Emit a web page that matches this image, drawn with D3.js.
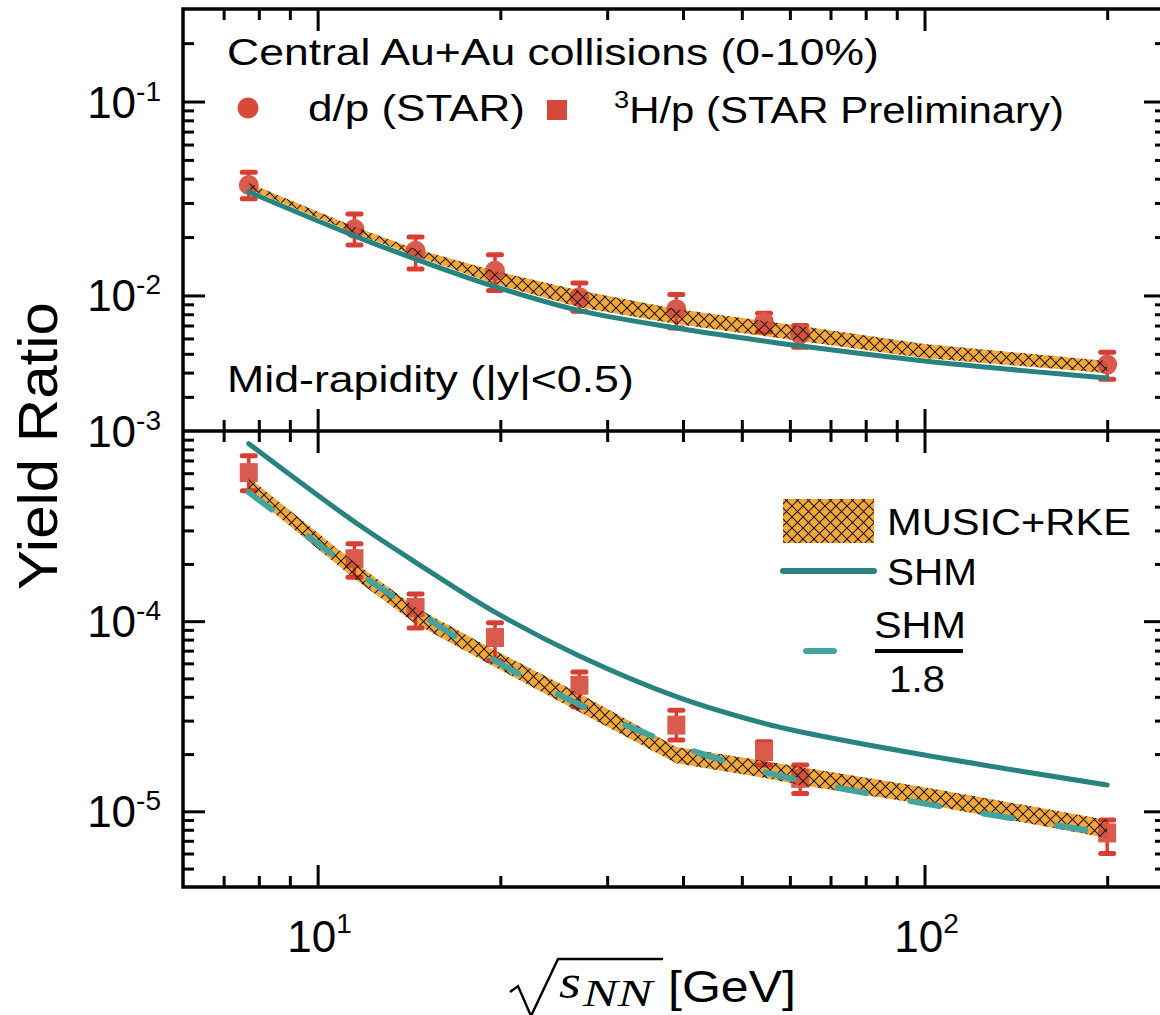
<!DOCTYPE html>
<html lang="en">
<head>
<meta charset="UTF-8">
<title>Yield Ratio vs collision energy</title>
<style>
  body { margin: 0; background: #fff; }
  text { font-family: "Liberation Sans", Arial, sans-serif; fill: #000; }
</style>
</head>
<body>
<script src="https://d3js.org/d3.v7.min.js"></script>
<script>
// ---- data ----
const energies = [7.7, 11.5, 14.5, 19.6, 27, 39, 54.4, 62.4, 200];

// d/p (STAR)
const dpRatio = [0.0371, 0.0220, 0.0170, 0.0134, 0.0098, 0.0085, 0.0073, 0.0063, 0.0044];
const dpLow   = [0.0315, 0.0182, 0.0137, 0.0106, 0.0083, 0.0068, 0.0065, 0.0054, 0.0037];
const dpHigh  = [0.0432, 0.0263, 0.0200, 0.0162, 0.0116, 0.0101, 0.0081, 0.0070, 0.0051];

// 3H/p (STAR Preliminary)
const tpRatio = [6.04e-4, 2.13e-4, 1.18e-4, 8.2e-5, 4.6e-5, 2.84e-5, 2.06e-5, 1.49e-5, 7.7e-6];
const tpLow   = [4.85e-4, 1.70e-4, 9.2e-5, 6.2e-5, 3.54e-5, 2.37e-5, 1.75e-5, 1.24e-5, 6.0e-6];
const tpHigh  = [7.4e-4, 2.55e-4, 1.39e-4, 9.8e-5, 5.4e-5, 3.4e-5, 2.32e-5, 1.75e-5, 9.0e-6];

// model curves
const modelEnergies = [7.7, 11.5, 14.5, 19.6, 27, 39, 54.4, 62.4, 100, 200];
const shmDp     = [0.0342, 0.0203, 0.0154, 0.0111, 0.00835, 0.00680, 0.00582, 0.00549, 0.00459, 0.00375];
const musicDpHi = [0.0380, 0.0226, 0.01738, 0.01335, 0.01059, 0.00851, 0.00738, 0.00696, 0.00562, 0.00459];
const musicDpLo = [0.0354, 0.0210, 0.01599, 0.01147, 0.00870, 0.00712, 0.00618, 0.00582, 0.00476, 0.00398];

const shmTp     = [8.58e-4, 3.33e-4, 2.04e-4, 1.115e-4, 6.56e-5, 4.01e-5, 2.90e-5, 2.62e-5, 1.976e-5, 1.375e-5];
const musicTpHi = [5.69e-4, 2.04e-4, 1.184e-4, 7.02e-5, 4.16e-5, 2.18e-5, 1.84e-5, 1.71e-5, 1.34e-5, 9.0e-6];
const musicTpLo = [4.75e-4, 1.67e-4, 9.7e-5, 5.74e-5, 3.33e-5, 1.79e-5, 1.50e-5, 1.375e-5, 1.09e-5, 7.25e-6];
const shmScale = 1.8;   // SHM / 1.8 curve

// axis tick labels
const xMajor = [10, 100];
const xMajorLabels = ["1", "2"];
const yTopMajor = [1e-1, 1e-2];
const yTopLabels = ["-1", "-2"];
const yBotMajor = [1e-3, 1e-4, 1e-5];
const yBotLabels = ["-3", "-4", "-5"];

// ---- layout ----
const W = 1160, H = 1015;
const padL = 183, padR = 1166, padT = 9, padM = 431, padB = 887;
const red = "#d74a3b", redBar = "#d42a1f", teal = "#28827e", tealDash = "#45a39e", orange = "#f5a738";

const svg = d3.select("body").append("svg")
    .attr("width", W)
    .attr("height", H)
    .style("display", "block");

const x = d3.scaleLog().domain([6, 250]).range([padL, padR]);
const yTop = d3.scaleLog().domain([2e-3, 0.3]).range([padM, padT]);
const yBot = d3.scaleLog().domain([4e-6, 1e-3]).range([padB, padM]);

// hatch pattern
const defs = svg.append("defs");
const pat = defs.append("pattern")
    .attr("id", "hatch")
    .attr("patternUnits", "userSpaceOnUse")
    .attr("width", 11).attr("height", 11);
pat.append("path")
    .attr("d", "M0,0L11,11M11,0L0,11")
    .attr("stroke", "#1a1a1a")
    .attr("stroke-width", 1.1)
    .attr("fill", "none");

function stretchText(sel, tx, ty, width, extra) {
    const w = sel.node().getBBox().width;
    sel.attr("transform", `translate(${tx},${ty}) ${extra || ""} scale(${width / w},1)`);
    return sel;
}

function drawPanel(y, data, lo, hi, shm, bandHi, bandLo, marker) {
    const model = modelEnergies.map((e, i) => ({e, v: shm[i], hi: bandHi[i], lo: bandLo[i]}));
    const pts = energies.map((e, i) => ({e, v: data[i], lo: lo[i], hi: hi[i]}));

    const area = d3.area()
        .x(d => x(d.e))
        .y0(d => y(d.lo))
        .y1(d => y(d.hi));

    svg.append("path").datum(model)
        .attr("d", area)
        .attr("fill", orange);

    // data points
    const g = svg.append("g").attr("opacity", 0.9);
    g.selectAll(".bar").data(pts).enter().append("line")
        .attr("x1", d => x(d.e)).attr("x2", d => x(d.e))
        .attr("y1", d => y(d.lo)).attr("y2", d => y(d.hi))
        .attr("stroke", redBar).attr("stroke-width", 3.5);
    ["lo", "hi"].forEach(k => {
        g.selectAll(".cap" + k).data(pts).enter().append("line")
            .attr("x1", d => x(d.e) - 6.5).attr("x2", d => x(d.e) + 6.5)
            .attr("y1", d => y(d[k])).attr("y2", d => y(d[k]))
            .attr("stroke", redBar).attr("stroke-width", 5)
            .attr("stroke-linecap", "round");
    });
    if (marker === "circle") {
        g.selectAll(".pt").data(pts).enter().append("circle")
            .attr("cx", d => x(d.e)).attr("cy", d => y(d.v))
            .attr("r", 10).attr("fill", red);
    } else {
        g.selectAll(".pt").data(pts).enter().append("rect")
            .attr("x", d => x(d.e) - 9).attr("y", d => y(d.v) - 9.5)
            .attr("width", 18).attr("height", 19).attr("fill", red);
    }

    svg.append("path").datum(model)
        .attr("d", area)
        .attr("fill", "url(#hatch)");

    const line = d3.line()
        .x(d => x(d.e))
        .y(d => y(d.v))
        .curve(d3.curveCatmullRom.alpha(0.5));
    svg.append("path").datum(model)
        .attr("d", line)
        .attr("fill", "none")
        .attr("stroke", teal)
        .attr("stroke-width", 5)
        .attr("stroke-linecap", "round");
    return {model, line};
}

drawPanel(yTop, dpRatio, dpLow, dpHigh, shmDp, musicDpHi, musicDpLo, "circle");
const bot = drawPanel(yBot, tpRatio, tpLow, tpHigh, shmTp, musicTpHi, musicTpLo, "square");

// SHM / 1.8 dashed curve
svg.append("path")
    .datum(bot.model.map(d => ({e: d.e, v: d.v / shmScale})))
    .attr("d", bot.line)
    .attr("fill", "none")
    .attr("stroke", tealDash)
    .attr("stroke-width", 6)
    .attr("stroke-linecap", "round")
    .attr("stroke-dasharray", "29,45");

// ---- ticks ----
const isMajor = v => Math.abs(Math.log10(v) - Math.round(Math.log10(v))) < 1e-6;
const inside = (s, v) => v > s.domain()[0] * 1.0001 && v < s.domain()[1] * 0.9999;

function ticks(axisFn, scale, tx, ty) {
    const all = scale.ticks().filter(v => inside(scale, v));
    [[all.filter(v => !isMajor(v)), 11], [all.filter(isMajor), 22]].forEach(([vals, len]) => {
        const g = svg.append("g")
            .attr("transform", `translate(${tx},${ty})`)
            .call(axisFn(scale).tickValues(vals).tickSize(-len).tickFormat(""));
        g.select(".domain").remove();
        g.selectAll("line").attr("stroke", "#000").attr("stroke-width", 3);
    });
}
ticks(d3.axisBottom, x, 0, padB);
ticks(d3.axisBottom, x, 0, padM);
ticks(d3.axisTop, x, 0, padM);
ticks(d3.axisTop, x, 0, padT);
ticks(d3.axisLeft, yTop, padL, 0);
ticks(d3.axisRight, yTop, padR, 0);
ticks(d3.axisLeft, yBot, padL, 0);
ticks(d3.axisRight, yBot, padR, 0);

// frame
svg.append("rect")
    .attr("x", padL).attr("y", padT)
    .attr("width", padR - padL).attr("height", padB - padT)
    .attr("fill", "none").attr("stroke", "#000").attr("stroke-width", 3.5);
svg.append("line")
    .attr("x1", padL).attr("x2", padR).attr("y1", padM).attr("y2", padM)
    .attr("stroke", "#000").attr("stroke-width", 3.5);

// tick labels
xMajor.forEach((v, i) => {
    const t = svg.append("text")
        .attr("x", x(v) + 2).attr("y", 952)
        .attr("text-anchor", "middle")
        .style("font-size", "44px");
    t.append("tspan").text("10");
    t.append("tspan").attr("dy", -19).style("font-size", "28px").text(xMajorLabels[i]);
});
function yLabels(scale, vals, labels) {
    vals.forEach((v, i) => {
        const t = svg.append("text")
            .attr("x", 161).attr("y", scale(v) + 16)
            .attr("text-anchor", "end")
            .style("font-size", "44px");
        t.append("tspan").text("10");
        t.append("tspan").attr("dy", -17).style("font-size", "28px").text(labels[i]);
    });
}
yLabels(yTop, yTopMajor, yTopLabels);
yLabels(yBot, yBotMajor, yBotLabels);

// axis titles
stretchText(svg.append("text").style("font-size", "56px").text("Yield Ratio"),
    57, 590, 288, "rotate(-90)");

svg.append("path")
    .attr("d", "M510,992L518,986L531,1016L558,959H663")
    .attr("fill", "none").attr("stroke", "#000").attr("stroke-width", 2.4)
    .attr("stroke-linejoin", "miter");
stretchText(svg.append("text")
    .style("font-family", "'Liberation Serif', serif").style("font-style", "italic")
    .style("font-size", "48px").text("s"), 559, 998, 22);
stretchText(svg.append("text")
    .style("font-family", "'Liberation Serif', serif").style("font-style", "italic")
    .style("font-size", "37px").text("NN"), 583, 1006, 74);
stretchText(svg.append("text").style("font-size", "44px").text("[GeV]"), 668, 1002, 128);

// top panel legend
stretchText(svg.append("text").style("font-size", "37px").text("Central Au+Au collisions (0-10%)"),
    227, 65, 652);
svg.append("circle").attr("cx", 248).attr("cy", 108).attr("r", 10.5).attr("fill", red);
stretchText(svg.append("text").style("font-size", "37px").text("d/p (STAR)"), 308, 121, 217);
svg.append("rect").attr("x", 547).attr("y", 100).attr("width", 20).attr("height", 20).attr("fill", red);
const h3 = svg.append("text").style("font-size", "37px");
h3.append("tspan").attr("dy", -15).style("font-size", "24px").text("3");
h3.append("tspan").attr("dy", 15).text("H/p (STAR Preliminary)");
stretchText(h3, 614, 123, 450);
stretchText(svg.append("text").style("font-size", "37px").text("Mid-rapidity (|y|<0.5)"),
    227, 392, 407);

// bottom panel legend
svg.append("rect").attr("x", 783).attr("y", 499).attr("width", 91).attr("height", 44).attr("fill", orange);
svg.append("rect").attr("x", 783).attr("y", 499).attr("width", 91).attr("height", 44).attr("fill", "url(#hatch)");
stretchText(svg.append("text").style("font-size", "37px").text("MUSIC+RKE"), 887, 535, 244);
svg.append("line").attr("x1", 783).attr("x2", 874).attr("y1", 571).attr("y2", 571)
    .attr("stroke", teal).attr("stroke-width", 6).attr("stroke-linecap", "round");
stretchText(svg.append("text").style("font-size", "37px").text("SHM"), 887, 585, 90);
svg.append("line").attr("x1", 806).attr("x2", 834).attr("y1", 651).attr("y2", 651)
    .attr("stroke", tealDash).attr("stroke-width", 6).attr("stroke-linecap", "round");
stretchText(svg.append("text").style("font-size", "37px").text("SHM"), 874, 638, 92);
svg.append("line").attr("x1", 875).attr("x2", 963).attr("y1", 651).attr("y2", 651)
    .attr("stroke", "#000").attr("stroke-width", 4);
stretchText(svg.append("text").style("font-size", "37px").text("1.8"), 889, 692, 56);
</script>
</body>
</html>
